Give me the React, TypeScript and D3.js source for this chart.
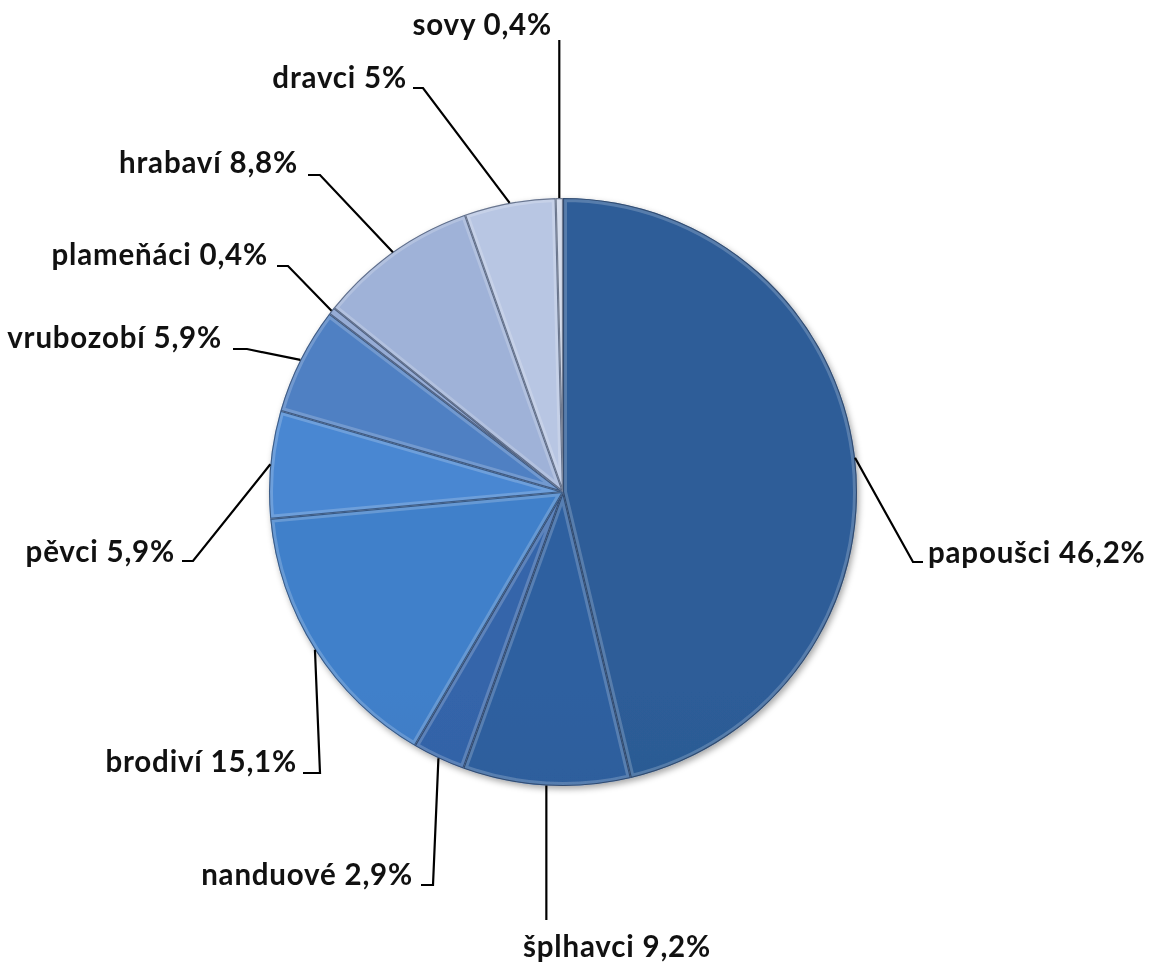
import React from "react";
import * as d3 from "d3";

const categories = ["papoušci", "šplhavci", "nanduové", "brodiví", "pěvci", "vrubozobí", "plameňáci", "hrabaví", "dravci", "sovy"];
const values = [46.2, 9.2, 2.9, 15.1, 5.9, 5.9, 0.4, 8.8, 5, 0.4];
const valueLabels = ["46,2%", "9,2%", "2,9%", "15,1%", "5,9%", "5,9%", "0,4%", "8,8%", "5%", "0,4%"];

// slice colours (top, bottom of gradient)
const topColors = ["#2d5d98", "#2e60a0", "#3465aa", "#4180ca", "#4887d2", "#4f80c3", "#7b98cb", "#9fb2d8", "#b8c6e3", "#ccd5e8"];
const bottomColors = ["#244a7a", "#27518a", "#2b5793", "#3364a5", "#3a73b8", "#416daa", "#6a89bd", "#8aa0ca", "#a6b6d8", "#b9c4dd"];

// label layout: text x, baseline y, anchor, elbow x, end x (null => vertical only)
const labelLayout = [
  { tx: 928, ty: 563, anchor: "start", ex: 913, ey: 562, lx: 923 },
  { tx: 523, ty: 957, anchor: "start", ex: null, ey: 920, lx: null },
  { tx: 413, ty: 885, anchor: "end", ex: 433, ey: 885, lx: 421 },
  { tx: 297, ty: 772, anchor: "end", ex: 320, ey: 773, lx: 303 },
  { tx: 175, ty: 562, anchor: "end", ex: 193, ey: 561, lx: 182 },
  { tx: 222, ty: 348, anchor: "end", ex: 247, ey: 349, lx: 233 },
  { tx: 268, ty: 265, anchor: "end", ex: 288, ey: 266, lx: 277 },
  { tx: 298, ty: 173, anchor: "end", ex: 320, ey: 175, lx: 308 },
  { tx: 407, ty: 88, anchor: "end", ex: 423, ey: 88, lx: 413 },
  { tx: 552, ty: 35, anchor: "end", ex: null, ey: 40, lx: null },
];

const W = 1151;
const H = 964;
const cx = 563;
const cy = 492;
const R = 294;

export default function App() {
  const data = categories.map((c, i) => ({ name: c, value: values[i], label: valueLabels[i], i }));
  const pie = d3.pie<any>().sort(null).value((d) => d.value).startAngle(0).endAngle(2 * Math.PI);
  const arcs = pie(data);
  const arc = d3.arc<any>().innerRadius(0).outerRadius(R);

  return (
    <svg width={W} height={H} style={{ position: "absolute", left: 0, top: 0, background: "#fff" }}>
      <defs>
        <filter id="shadow" x="-10%" y="-10%" width="120%" height="120%">
          <feDropShadow dx="2" dy="3" stdDeviation="3" floodColor="#000" floodOpacity="0.35" />
        </filter>
        {arcs.map((a, i) => (
          <linearGradient key={i} id={`g${i}`} gradientUnits="userSpaceOnUse" x1={0} y1={cy - R} x2={0} y2={cy + R}>
            <stop offset="0" stopColor={topColors[i]} />
            <stop offset="1" stopColor={bottomColors[i]} />
          </linearGradient>
        ))}
        {arcs.map((a, i) => (
          <clipPath key={i} id={`c${i}`}>
            <path d={arc(a) as string} transform={`translate(${cx},${cy})`} />
          </clipPath>
        ))}
      </defs>
      <g filter="url(#shadow)">
        {arcs.map((a, i) => (
          <path key={i} d={arc(a) as string} transform={`translate(${cx},${cy})`} fill={`url(#g${i})`} />
        ))}
      </g>
      {arcs.map((a, i) => (
        <g key={i} clipPath={`url(#c${i})`}>
          <path
            d={arc(a) as string}
            transform={`translate(${cx},${cy})`}
            fill="none"
            stroke="#ffffff"
            strokeOpacity={0.2}
            strokeWidth={8}
          />
          <path
            d={arc(a) as string}
            transform={`translate(${cx},${cy})`}
            fill="none"
            stroke="#0c1a33"
            strokeOpacity={0.5}
            strokeWidth={2.2}
          />
        </g>
      ))}
      {arcs.map((a, i) => {
        const mid = (a.startAngle + a.endAngle) / 2;
        const px = cx + R * Math.sin(mid);
        const py = cy - R * Math.cos(mid);
        const L = labelLayout[i];
        let d: string;
        if (L.ex === null) {
          d = `M${px},${py}L${px},${L.ey}`;
        } else {
          d = `M${px},${py}L${L.ex},${L.ey}L${L.lx},${L.ey}`;
        }
        return (
          <g key={`l${i}`}>
            <path d={d} fill="none" stroke="#000" strokeWidth={2.2} />
            <text
              x={L.tx}
              y={L.ty}
              textAnchor={L.anchor as any}
              fontFamily="Lato, 'Open Sans', sans-serif"
              fontWeight="bold"
              fontSize={29.5}
              letterSpacing={0.8}
              fill="#111"
            >
              {`${a.data.name} ${a.data.label}`}
            </text>
          </g>
        );
      })}
    </svg>
  );
}
